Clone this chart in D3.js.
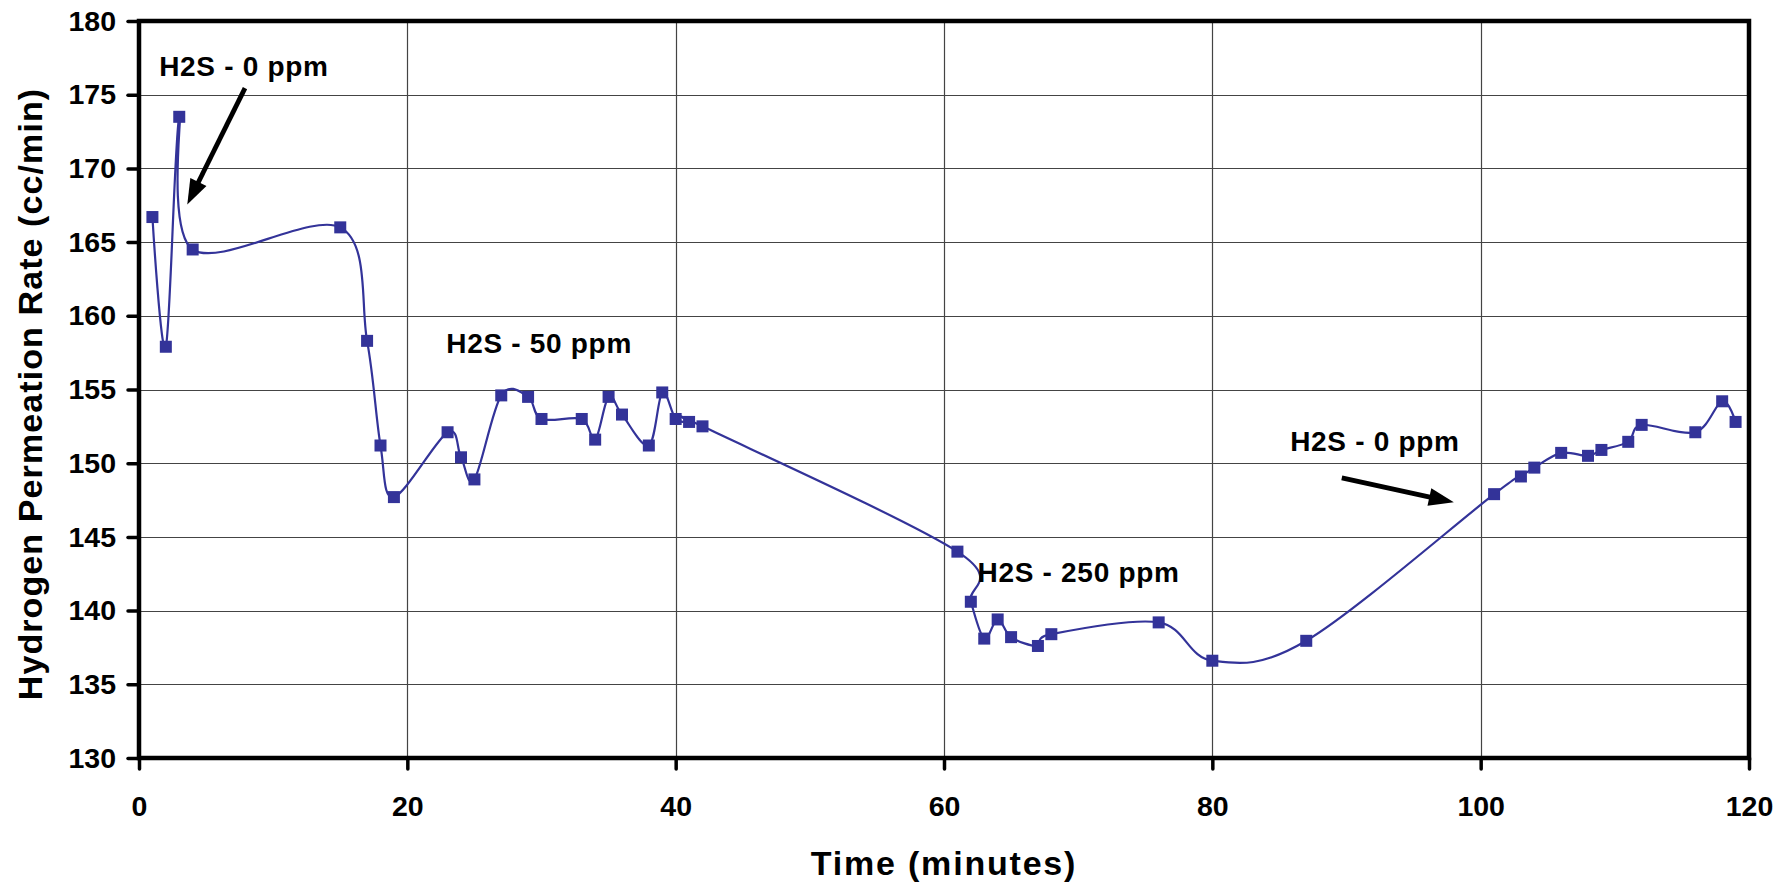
<!DOCTYPE html>
<html>
<head>
<meta charset="utf-8">
<script src="https://cdn.jsdelivr.net/npm/d3@7"></script>
<style>
body { margin: 0; background: #fff; }
text { font-family: "Liberation Sans", Arial, sans-serif; font-weight: bold; fill: #000; }
</style>
</head>
<body>
<svg></svg>
<script>
// Time in minutes and measured permeation rate (cc/min)
var time = [1, 2, 3, 4, 15, 17, 18, 19, 23, 24, 25, 27, 29, 30, 33, 34, 35, 36, 38, 39, 40, 41, 42,
	61, 62, 63, 64, 65, 67, 68, 76, 80, 87, 101, 103, 104, 106, 108, 109, 111, 112, 116, 118, 119];
var rate = [166.7, 157.9, 173.5, 164.5, 166.0, 158.3, 151.2, 147.7, 152.1, 150.4, 148.9, 154.6, 154.5, 153.0,
	153.0, 151.6, 154.5, 153.3, 151.2, 154.8, 153.0, 152.8, 152.5, 144.0, 140.6, 138.1, 139.4, 138.2,
	137.6, 138.4, 139.2, 136.6, 137.95, 147.9, 149.1, 149.7, 150.7, 150.5, 150.9, 151.45, 152.6, 152.1,
	154.2, 152.8];

var xTicks = [0, 20, 40, 60, 80, 100, 120];
var yTicks = [130, 135, 140, 145, 150, 155, 160, 165, 170, 175, 180];

// Annotation labels, anchored in data units (left edge, baseline)
var labels = [
	{text: "H2S - 0 ppm", t: 1.5, v: 176.25},
	{text: "H2S - 50 ppm", t: 22.9, v: 157.5},
	{text: "H2S - 250 ppm", t: 62.5, v: 141.95},
	{text: "H2S - 0 ppm", t: 85.8, v: 150.85}
];
var arrows = [
	{t1: 7.9, v1: 175.45, t2: 3.6, v2: 167.55},
	{t1: 89.65, v1: 149.0, t2: 98.0, v2: 147.35}
];

var WIDTH = 1790,
	HEIGHT = 884,
	LEFT = 139, RIGHT = 1749, TOP = 21, BOTTOM = 758,
	COLOR = "#333399";

var svg = d3.select("svg")
	.attr("width", WIDTH)
	.attr("height", HEIGHT);

svg.append("rect").attr("width", WIDTH).attr("height", HEIGHT).attr("fill", "#fff");

var x = d3.scaleLinear().domain([0, 120]).range([LEFT, RIGHT]);
var y = d3.scaleLinear().domain([130, 180]).range([BOTTOM, TOP]);

//////////// Grid lines
svg.append("g")
	.selectAll("line")
	.data(yTicks.slice(1, -1))
  .enter().append("line")
	.attr("x1", LEFT).attr("x2", RIGHT)
	.attr("y1", function(d) { return Math.round(y(d)) + 0.5; })
	.attr("y2", function(d) { return Math.round(y(d)) + 0.5; })
	.attr("stroke", "#444")
	.attr("stroke-width", 1.2);

svg.append("g")
	.selectAll("line")
	.data(xTicks.slice(1, -1))
  .enter().append("line")
	.attr("y1", TOP).attr("y2", BOTTOM)
	.attr("x1", function(d) { return Math.round(x(d)) + 0.5; })
	.attr("x2", function(d) { return Math.round(x(d)) + 0.5; })
	.attr("stroke", "#444")
	.attr("stroke-width", 1.2);

//////////// Axes with outside ticks
var xAxis = svg.append("g")
	.attr("transform", "translate(0," + BOTTOM + ")")
	.call(d3.axisBottom(x).tickValues(xTicks).tickSize(11).tickPadding(27));
var yAxis = svg.append("g")
	.attr("transform", "translate(" + LEFT + ",0)")
	.call(d3.axisLeft(y).tickValues(yTicks).tickSize(11).tickPadding(12));

[xAxis, yAxis].forEach(function(ax) {
	ax.select(".domain").remove();
	ax.selectAll(".tick line")
		.attr("stroke", "#000")
		.attr("stroke-width", 3.5)
		.attr("stroke-linecap", "round");
	ax.selectAll(".tick text")
		.attr("font-family", "\"Liberation Sans\", Arial, sans-serif")
		.attr("font-weight", "bold")
		.attr("font-size", 28.5)
		.attr("fill", "#000");
});
xAxis.selectAll(".tick text").attr("dy", "0.71em");

// Frame
svg.append("rect")
	.attr("x", LEFT).attr("y", TOP)
	.attr("width", RIGHT - LEFT).attr("height", BOTTOM - TOP)
	.attr("fill", "none")
	.attr("stroke", "#000")
	.attr("stroke-width", 4.5);

//////////// Data line and markers
var points = time.map(function(t, i) { return [t, rate[i]]; });

var line = d3.line()
	.x(function(d) { return x(d[0]); })
	.y(function(d) { return y(d[1]); })
	.curve(d3.curveCardinal.tension(0));

svg.append("path")
	.datum(points)
	.attr("d", line)
	.attr("fill", "none")
	.attr("stroke", COLOR)
	.attr("stroke-width", 2.2);

var MARK = 12;
svg.append("g")
	.selectAll("rect")
	.data(points)
  .enter().append("rect")
	.attr("x", function(d) { return x(d[0]) - MARK / 2; })
	.attr("y", function(d) { return y(d[1]) - MARK / 2; })
	.attr("width", MARK)
	.attr("height", MARK)
	.attr("fill", COLOR);

//////////// Annotations
svg.append("g")
	.selectAll("text")
	.data(labels)
  .enter().append("text")
	.attr("x", function(d) { return x(d.t); })
	.attr("y", function(d) { return y(d.v); })
	.attr("font-size", 28)
	.attr("letter-spacing", 0.7)
	.text(function(d) { return d.text; });

var HEAD_LEN = 25, HEAD_W = 18;
arrows.forEach(function(a) {
	var x1 = x(a.t1), y1 = y(a.v1), x2 = x(a.t2), y2 = y(a.v2);
	var dx = x2 - x1, dy = y2 - y1, len = Math.sqrt(dx * dx + dy * dy);
	var ux = dx / len, uy = dy / len;
	var bx = x2 - ux * HEAD_LEN, by = y2 - uy * HEAD_LEN;
	svg.append("line")
		.attr("x1", x1).attr("y1", y1)
		.attr("x2", bx + ux * 4).attr("y2", by + uy * 4)
		.attr("stroke", "#000")
		.attr("stroke-width", 4.8);
	svg.append("path")
		.attr("d", "M" + x2 + "," + y2 +
			"L" + (bx - uy * HEAD_W / 2) + "," + (by + ux * HEAD_W / 2) +
			"L" + (bx + uy * HEAD_W / 2) + "," + (by - ux * HEAD_W / 2) + "Z")
		.attr("fill", "#000");
});

//////////// Axis titles
svg.append("text")
	.attr("x", (LEFT + RIGHT) / 2)
	.attr("y", 875)
	.attr("text-anchor", "middle")
	.attr("font-size", 34)
	.attr("letter-spacing", 1.8)
	.text("Time (minutes)");

svg.append("text")
	.attr("transform", "translate(42," + 394 + ") rotate(-90)")
	.attr("text-anchor", "middle")
	.attr("font-size", 34)
	.attr("letter-spacing", 1.1)
	.text("Hydrogen Permeation Rate (cc/min)");
</script>
</body>
</html>
